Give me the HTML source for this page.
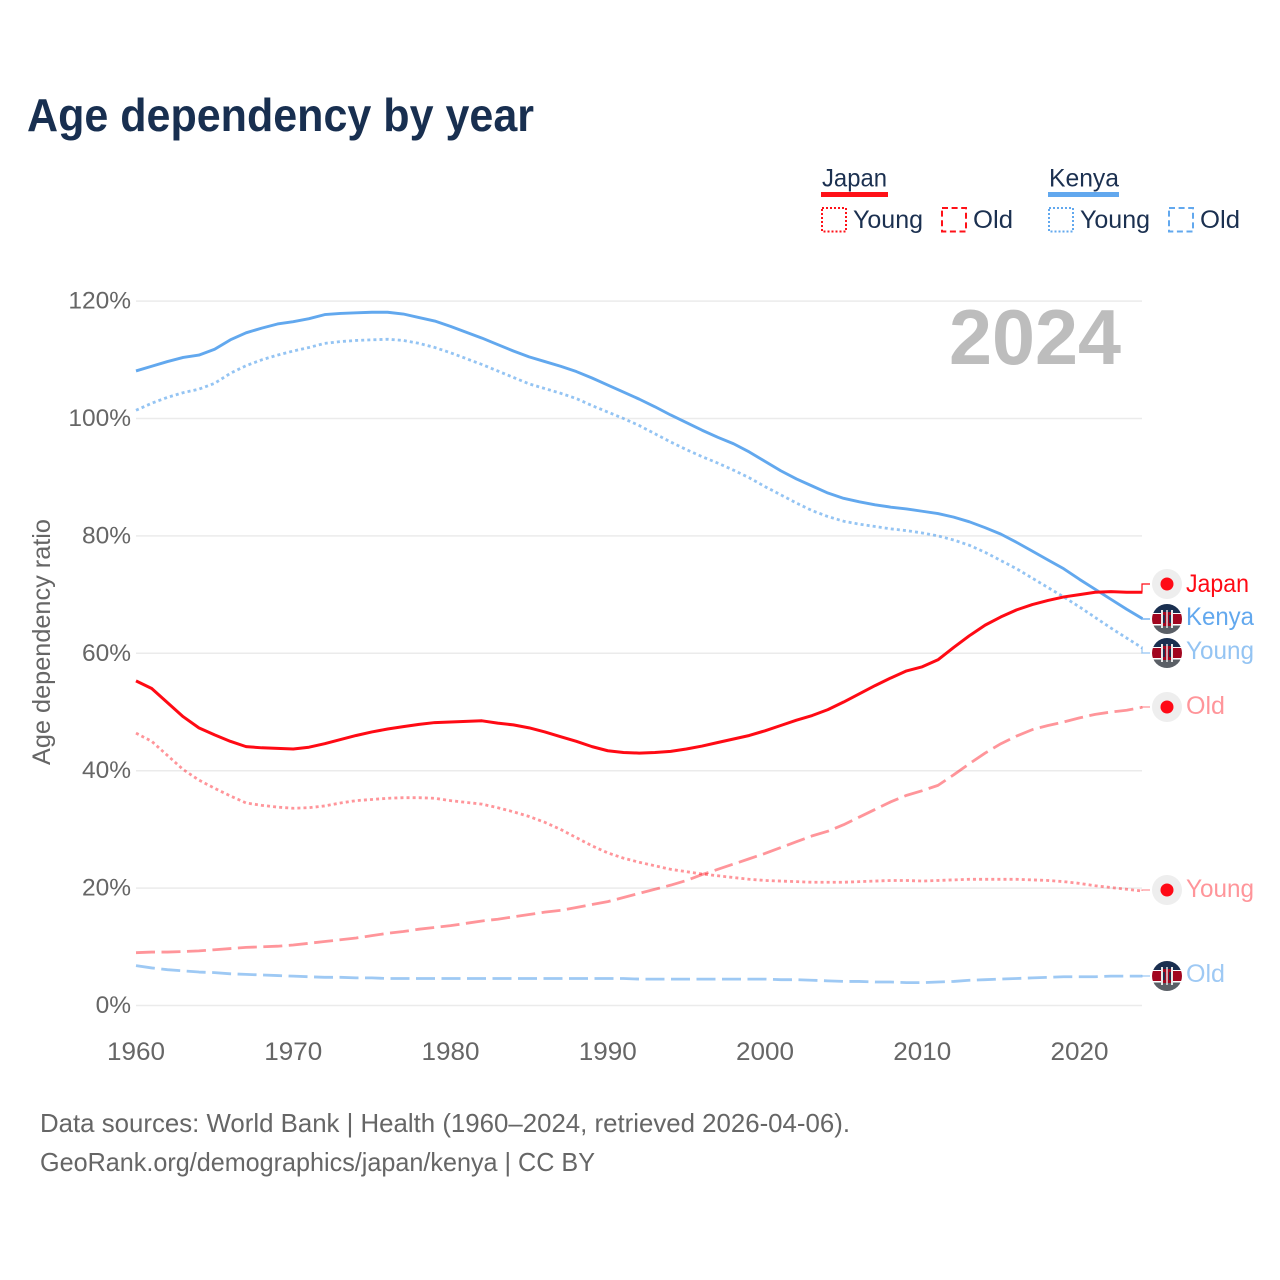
<!DOCTYPE html>
<html lang="en">
<head>
<meta charset="utf-8">
<title>Age dependency by year</title>
<style>
html,body{margin:0;padding:0;background:#fff;width:1280px;height:1280px;overflow:hidden}
svg{display:block;font-family:"Liberation Sans",sans-serif}
</style>
</head>
<body>
<svg id="chart" xmlns="http://www.w3.org/2000/svg" width="1280" height="1280" viewBox="0 0 1280 1280">
<defs>
<clipPath id="flag-clip"><circle cx="0" cy="0" r="15"/></clipPath>
<g id="kenya-flag">
<g clip-path="url(#flag-clip)">
<rect x="-15" y="-15" width="30" height="30" fill="#fff"/>
<rect x="-15" y="-15" width="30" height="9" fill="#1a2f50"/>
<rect x="-15" y="-5" width="30" height="10" fill="#a2061f"/>
<rect x="-15" y="6.5" width="30" height="8.5" fill="#5a5f66"/>
<rect x="-6" y="-9" width="2" height="18" fill="#e8e8e8"/>
<rect x="4" y="-9" width="2" height="18" fill="#e8e8e8"/>
<rect x="-4" y="-7" width="8" height="14" fill="#a2061f"/>
<rect x="-4" y="-4" width="1.8" height="8" fill="#1a2f50"/>
<rect x="2.2" y="-4" width="1.8" height="8" fill="#1a2f50"/>
<rect x="-0.7" y="-9" width="1.4" height="18" fill="#eee"/>
</g>
</g>
</defs>
<text x="27" y="131" font-size="46" font-weight="700" fill="#182f50" textLength="507" lengthAdjust="spacingAndGlyphs">Age dependency by year</text>

<g>
<text x="822" y="186.5" font-size="25" fill="#1b3050" textLength="65" lengthAdjust="spacingAndGlyphs">Japan</text>
<rect x="821" y="192" width="67" height="5" fill="#ff1118"/>
<rect x="822" y="208" width="24" height="23.5" fill="none" stroke="#ff1118" stroke-width="2" stroke-dasharray="2 2"/>
<text x="853" y="228" font-size="25" fill="#1b3050" textLength="70" lengthAdjust="spacingAndGlyphs">Young</text>
<rect x="942" y="208" width="24" height="23.5" fill="none" stroke="#ff1118" stroke-width="2" stroke-dasharray="6 3.6"/>
<text x="973" y="228" font-size="25" fill="#1b3050" textLength="40" lengthAdjust="spacingAndGlyphs">Old</text>
<text x="1049" y="186.5" font-size="25" fill="#1b3050" textLength="70" lengthAdjust="spacingAndGlyphs">Kenya</text>
<rect x="1048" y="192" width="71" height="5" fill="#62a8ee"/>
<rect x="1049" y="208" width="24" height="23.5" fill="none" stroke="#62a8ee" stroke-width="2" stroke-dasharray="2 2"/>
<text x="1080" y="228" font-size="25" fill="#1b3050" textLength="70" lengthAdjust="spacingAndGlyphs">Young</text>
<rect x="1169" y="208" width="24" height="23.5" fill="none" stroke="#62a8ee" stroke-width="2" stroke-dasharray="6 3.6"/>
<text x="1200" y="228" font-size="25" fill="#1b3050" textLength="40" lengthAdjust="spacingAndGlyphs">Old</text>
</g>

<g id="grid"></g>
<g id="yticks"></g>
<g id="xticks"></g>
<text transform="translate(50,642) rotate(-90)" text-anchor="middle" font-size="25" fill="#666" textLength="246" lengthAdjust="spacingAndGlyphs">Age dependency ratio</text>
<text x="949" y="364" font-size="78" font-weight="700" fill="#bdbdbd" textLength="172" lengthAdjust="spacingAndGlyphs">2024</text>
<g id="series"></g>
<g id="ends"></g>

<text x="40" y="1132" font-size="26" fill="#666" textLength="810" lengthAdjust="spacingAndGlyphs">Data sources: World Bank | Health (1960–2024, retrieved 2026-04-06).</text>
<text x="40" y="1171" font-size="26" fill="#666" textLength="555" lengthAdjust="spacingAndGlyphs">GeoRank.org/demographics/japan/kenya | CC BY</text>
</svg>
<script>
const startYear = 1960;
const xTickYears = [1960,1970,1980,1990,2000,2010,2020];
const yTickValues = [0,20,40,60,80,100,120];

const kenyaTotal = [
108.1,108.9,109.7,110.4,110.8,111.8,113.4,114.6,115.4,116.1,
116.5,117.0,117.7,117.9,118.0,118.1,118.1,117.8,117.2,116.6,
115.7,114.7,113.7,112.6,111.5,110.5,109.7,108.9,108.0,106.9,
105.7,104.5,103.3,102.0,100.6,99.3,98.0,96.8,95.7,94.3,
92.7,91.1,89.7,88.5,87.3,86.4,85.8,85.3,84.9,84.6,
84.2,83.8,83.2,82.4,81.4,80.3,78.9,77.4,75.9,74.4,
72.6,70.9,69.2,67.5,65.9];
const kenyaYoung = [
101.4,102.6,103.6,104.4,105.0,106.0,107.7,109.0,110.0,110.8,
111.5,112.1,112.8,113.1,113.3,113.4,113.5,113.3,112.8,112.1,
111.2,110.2,109.2,108.1,107.0,105.9,105.1,104.3,103.4,102.2,
101.1,100.0,98.8,97.4,96.0,94.7,93.5,92.4,91.2,89.9,
88.4,87.0,85.6,84.3,83.3,82.5,82.0,81.6,81.2,80.9,
80.5,80.0,79.3,78.4,77.2,75.8,74.4,72.8,71.2,69.6,
67.9,66.1,64.3,62.6,60.9];
const kenyaOld = [
6.8,6.4,6.1,5.9,5.7,5.6,5.4,5.3,5.2,5.1,
5.0,4.9,4.8,4.8,4.7,4.7,4.6,4.6,4.6,4.6,
4.6,4.6,4.6,4.6,4.6,4.6,4.6,4.6,4.6,4.6,
4.6,4.6,4.5,4.5,4.5,4.5,4.5,4.5,4.5,4.5,
4.5,4.4,4.4,4.3,4.2,4.1,4.1,4.0,4.0,3.9,
3.9,4.0,4.1,4.3,4.4,4.5,4.6,4.7,4.8,4.9,
4.9,4.9,5.0,5.0,5.0];
const japanTotal = [
55.3,54.0,51.6,49.2,47.3,46.1,45.0,44.1,43.9,43.8,
43.7,44.0,44.6,45.3,46.0,46.6,47.1,47.5,47.9,48.2,
48.3,48.4,48.5,48.1,47.8,47.3,46.6,45.8,45.0,44.1,
43.4,43.1,43.0,43.1,43.3,43.7,44.2,44.8,45.4,46.0,
46.8,47.7,48.6,49.4,50.4,51.7,53.1,54.5,55.8,57.0,
57.7,58.9,61.0,63.0,64.8,66.2,67.4,68.3,69.0,69.6,
70.0,70.4,70.5,70.4,70.4];
const japanYoung = [
46.4,45.0,42.6,40.2,38.4,37.0,35.7,34.5,34.1,33.8,
33.6,33.7,34.0,34.5,34.9,35.1,35.3,35.4,35.4,35.3,
34.9,34.6,34.3,33.7,33.0,32.2,31.2,30.0,28.6,27.2,
26.0,25.1,24.4,23.8,23.2,22.8,22.4,22.1,21.8,21.5,
21.3,21.2,21.1,21.0,21.0,21.0,21.1,21.2,21.3,21.3,
21.2,21.3,21.4,21.5,21.5,21.5,21.5,21.4,21.3,21.1,
20.8,20.4,20.1,19.8,19.5];
const japanOld = [
9.0,9.1,9.1,9.2,9.3,9.5,9.7,9.9,10.0,10.1,
10.3,10.6,10.9,11.2,11.5,11.9,12.3,12.6,13.0,13.3,
13.6,14.0,14.4,14.7,15.1,15.5,15.9,16.2,16.7,17.2,
17.7,18.4,19.1,19.8,20.5,21.3,22.3,23.2,24.1,25.0,
25.9,26.9,27.9,28.9,29.7,30.8,32.1,33.4,34.7,35.8,
36.6,37.5,39.3,41.2,43.0,44.6,45.9,47.0,47.7,48.3,
49.0,49.6,50.0,50.3,50.8];

const NS = 'http://www.w3.org/2000/svg';
const xScale = yr => 136 + (yr - 1960) * 15.725;
const yScale = v => 1005.5 - v * 5.87;

function make(tag, attrs, parent, text) {
  const el = document.createElementNS(NS, tag);
  for (const k in attrs) el.setAttribute(k, attrs[k]);
  if (text !== undefined) el.textContent = text;
  parent.appendChild(el);
  return el;
}

const grid = document.getElementById('grid');
const yticks = document.getElementById('yticks');
const xticks = document.getElementById('xticks');

yTickValues.forEach(v => {
  const line = make('line', {x1: 136, x2: 1142, y1: yScale(v), y2: yScale(v), stroke: '#ebebeb', 'stroke-width': 1.5}, grid);
  
  
  const label = make('text', {x: 131, y: yScale(v) + 7.5, 'text-anchor': 'end', 'font-size': 24.5, fill: '#666'}, yticks, v + '%');
  
  
});
xTickYears.forEach(yr => {
  const label = make('text', {x: xScale(yr), y: 1060, 'text-anchor': 'middle', 'font-size': 25, fill: '#666', textLength: 58, lengthAdjust: 'spacingAndGlyphs'}, xticks, String(yr));
  
  
});

const seriesGroup = document.getElementById('series');
const endsGroup = document.getElementById('ends');

function drawSeries(values, name, color, dash, opacity, width) {
  const d = values.map((v, i) => (i ? 'L' : 'M') + xScale(startYear + i).toFixed(2) + ' ' + yScale(v).toFixed(2)).join(' ');
  const path = make('path', {d: d, fill: 'none', stroke: color, 'stroke-width': width, 'stroke-dasharray': dash, 'stroke-opacity': opacity, 'stroke-linejoin': 'round'}, seriesGroup);
  
  
}

drawSeries(japanOld, 'line-japan-old', '#ff0a14', '19 6.5', 0.43, 2.8);
drawSeries(kenyaOld, 'line-kenya-old', '#62a8ee', '19 6.5', 0.62, 2.8);
drawSeries(japanYoung, 'line-japan-young', '#ff0a14', '3 3.1', 0.43, 2.8);
drawSeries(kenyaYoung, 'line-kenya-young', '#62a8ee', '3 3.1', 0.68, 2.8);
drawSeries(kenyaTotal, 'line-kenya-total', '#62a8ee', 'none', 1, 2.9);
drawSeries(japanTotal, 'line-japan-total', '#ff0a14', 'none', 1, 3);

function drawEnd(values, labelText, country, markerY, labelBase, color, opacity, labelWidth, name) {
  const endY = yScale(values[values.length - 1]);
  const conn = make('path', {d: 'M1142 ' + endY.toFixed(1) + ' L1142 ' + markerY + ' L1150 ' + markerY, fill: 'none', stroke: color, 'stroke-width': 1.2, 'stroke-opacity': opacity}, endsGroup);
  
  
  if (country === 'japan') {
    const disc = make('circle', {cx: 1167, cy: markerY, r: 15, fill: '#eeeeee'}, endsGroup);
    
    
    const dot = make('circle', {cx: 1167, cy: markerY, r: 6.5, fill: '#ff0a16'}, endsGroup);
    
    
  } else {
    const flag = make('use', {href: '#kenya-flag', transform: 'translate(1167,' + markerY + ')'}, endsGroup);
    
    
  }
  const label = make('text', {x: 1186, y: labelBase, 'font-size': 25, fill: color, 'fill-opacity': opacity, textLength: labelWidth, lengthAdjust: 'spacingAndGlyphs'}, endsGroup, labelText);
  
  
}

drawEnd(japanTotal, 'Japan', 'japan', 584, 592, '#ff0a14', 1, 63, 'end-japan-total');
drawEnd(kenyaTotal, 'Kenya', 'kenya', 619, 625, '#62a8ee', 1, 68, 'end-kenya-total');
drawEnd(kenyaYoung, 'Young', 'kenya', 653, 659, '#62a8ee', 0.68, 68, 'end-kenya-young');
drawEnd(japanOld, 'Old', 'japan', 707, 714, '#ff0a14', 0.43, 39, 'end-japan-old');
drawEnd(japanYoung, 'Young', 'japan', 890, 897, '#ff0a14', 0.43, 68, 'end-japan-young');
drawEnd(kenyaOld, 'Old', 'kenya', 976, 982, '#62a8ee', 0.62, 39, 'end-kenya-old');
</script>
</body>
</html>
